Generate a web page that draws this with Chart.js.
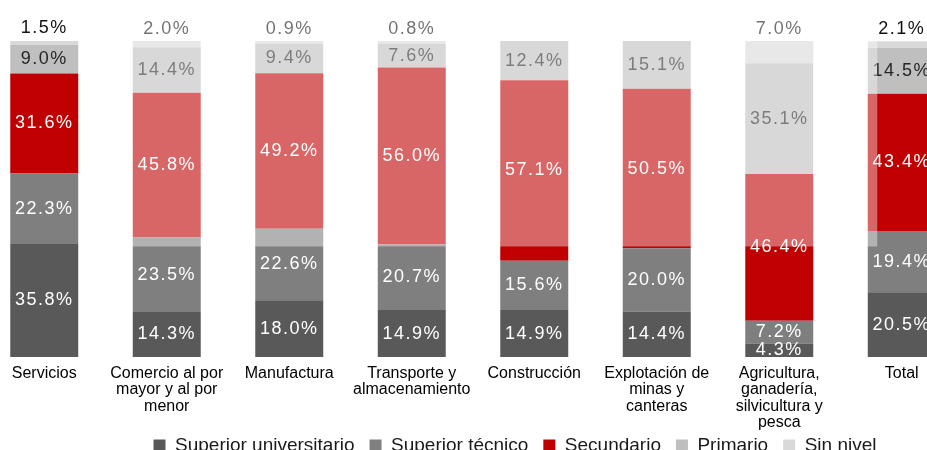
<!DOCTYPE html>
<html>
<head>
<meta charset="utf-8">
<script src="https://cdn.jsdelivr.net/npm/chart.js@4"></script>
<style>
  html, body { margin: 0; padding: 0; background: #fff; overflow: hidden; width: 927px; height: 450px; }
  #wrap { position: absolute; left: -17px; top: 0; width: 1064px; height: 483px; }
</style>
</head>
<body>
<div id="wrap"><canvas id="myChart"></canvas></div>
<script>
// categorias y porcentajes por nivel educativo
var categories = [
    'Servicios',
    ['Comercio al por', 'mayor y al por', 'menor'],
    'Manufactura',
    ['Transporte y', 'almacenamiento'],
    'Construcción',
    ['Explotación de', 'minas y', 'canteras'],
    ['Agricultura,', 'ganadería,', 'silvicultura y', 'pesca'],
    'Total'
];
var superiorUniversitario = [35.8, 14.3, 18.0, 14.9, 14.9, 14.4, 4.3, 20.5];
var superiorTecnico = [22.3, 23.5, 22.6, 20.7, 15.6, 20.0, 7.2, 19.4];
var secundario = [31.6, 45.8, 49.2, 56.0, 57.1, 50.5, 46.4, 43.4];
var primario = [9.0, 14.4, 9.4, 7.6, 12.4, 15.1, 35.1, 14.5];
var sinNivel = [1.5, 2.0, 0.9, 0.8, 0, 0, 7.0, 2.1];

var FONT = "'Liberation Sans', Arial, sans-serif";

// etiquetas de porcentaje dentro de cada tramo
var labelsPlugin = {
    id: 'pctLabels',
    afterDatasetsDraw: function (chart) {
        var ctx = chart.ctx;
        ctx.save();
        ctx.font = '18px ' + FONT;
        ctx.letterSpacing = '1.5px';
        ctx.textAlign = 'center';
        ctx.textBaseline = 'middle';
        chart.data.datasets.forEach(function (ds, i) {
            var meta = chart.getDatasetMeta(i);
            meta.data.forEach(function (bar, j) {
                var v = ds.data[j];
                if (!v) return;
                var txt = v.toFixed(1) + '%';
                if (i == 4) {
                    ctx.fillStyle = '#111111';
                    ctx.fillText(txt, bar.x, bar.y - 12);
                } else {
                    ctx.fillStyle = i < 3 ? '#ffffff' : '#262626';
                    ctx.fillText(txt, bar.x, (bar.y + bar.base) / 2);
                }
            });
        });
        ctx.restore();
    }
};

// velo blanco semitransparente sobre los sectores intermedios
var fadePlugin = {
    id: 'fade',
    afterDraw: function (chart) {
        var x = chart.scales.x, y = chart.scales.y;
        var x1 = x.getPixelForValue(0.5);
        var x2 = x.getPixelForValue(6.8);
        var y2 = y.getPixelForValue(35);
        var ctx = chart.ctx;
        ctx.save();
        ctx.fillStyle = 'rgba(255,255,255,0.4)';
        ctx.fillRect(x1, 0, x2 - x1, y2);
        ctx.restore();
    }
};

// sube la leyenda, pegada a las etiquetas del eje
var legendShift = {
    id: 'legendShift',
    afterLayout: function (chart) {
        chart.legend.top -= 18;
        chart.legend.bottom -= 18;
    }
};

var ctx = document.getElementById('myChart').getContext('2d');
var myChart = new Chart(ctx, {
    type: 'bar',
    data: {
        labels: categories,
        datasets: [{
            label: 'Superior universitario',
            data: superiorUniversitario,
            backgroundColor: '#595959'
        },
        {
            label: 'Superior técnico',
            data: superiorTecnico,
            backgroundColor: '#7f7f7f'
        },
        {
            label: 'Secundario',
            data: secundario,
            backgroundColor: '#c00000'
        },
        {
            label: 'Primario',
            data: primario,
            backgroundColor: '#bfbfbf'
        },
        {
            label: 'Sin nivel',
            data: sinNivel,
            backgroundColor: '#d9d9d9'
        }]
    },
    options: {
        responsive: true,
        maintainAspectRatio: false,
        animation: false,
        categoryPercentage: 1,
        barPercentage: 0.555,
        layout: {
            padding: { top: 41, right: 0, left: 0, bottom: 0 }
        },
        scales: {
            x: {
                stacked: true,
                grid: { display: false, drawTicks: false },
                border: { display: false },
                ticks: {
                    color: '#000000',
                    font: { family: FONT, size: 16, lineHeight: 1.03 },
                    padding: 8,
                    maxRotation: 0,
                    autoSkip: false
                }
            },
            y: {
                stacked: true,
                position: 'right',
                min: 0,
                max: 100,
                grid: { display: false, drawTicks: false },
                border: { display: false },
                ticks: { display: false },
                afterFit: function (scale) { scale.width = 84; }
            }
        },
        plugins: {
            legend: {
                position: 'bottom',
                labels: {
                    boxWidth: 12,
                    boxHeight: 12,
                    padding: 15,
                    color: '#1a1a1a',
                    font: { family: FONT, size: 19 }
                }
            },
            tooltip: { enabled: false }
        }
    },
    plugins: [labelsPlugin, fadePlugin, legendShift]
});
</script>
</body>
</html>
